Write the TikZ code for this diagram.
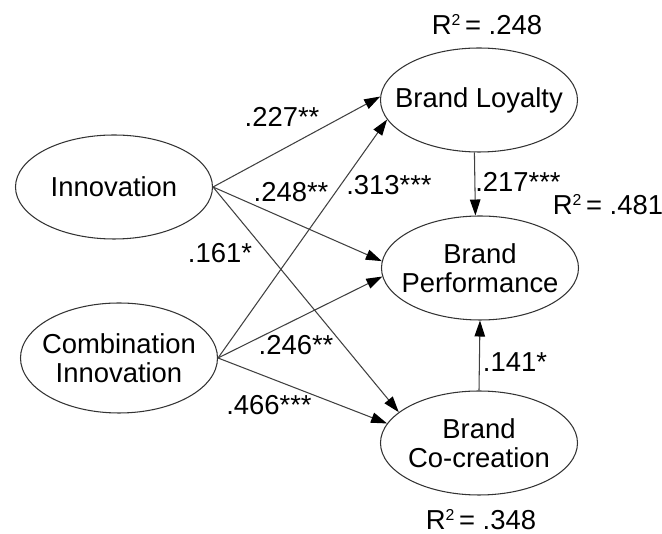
\documentclass[tikz,border=0pt]{standalone}
\usepackage{fontspec}
\setmainfont{Liberation Sans}
\usetikzlibrary{positioning,arrows.meta,shapes.geometric}

\newcommand{\rsq}{R\raisebox{0.62ex}{\fontsize{9}{9}\selectfont 2}\,= }

\begin{document}
\begin{tikzpicture}[
    latent/.style={ellipse, draw=black!80, line width=0.6pt, inner sep=0pt, minimum width=3.94cm, minimum height=2.08cm,
        label={[align=center, font=\fontsize{15.6}{16.6}\selectfont]center:#1}},
    path/.style={-{Triangle[length=0.32cm,width=0.21cm,color=black]}, draw=black!75, line width=0.6pt},
    coef/.style={font=\fontsize{15.6}{16.6}\selectfont, inner sep=1pt}
]
\useasboundingbox (0,0) rectangle (13.24,10.68);

% Exogenous constructs
\node[latent={Innovation}] (inn) at (2.28,6.94) {};
\node[latent={Combination\\Innovation}, minimum height=2.2cm] (comb) at (2.38,3.52) {};

% Endogenous constructs
\node[latent={Brand Loyalty}] (loy) at (9.58,8.68) {};
\node[latent={Brand\\Performance}] (perf) at (9.60,5.32) {};
\node[latent={Brand\\Co-creation}] (co) at (9.58,1.82) {};

% R squared
\node[coef] (r2loy) at (9.74,10.18) {\rsq.248};
\node[coef] (r2perf) at (12.16,6.58) {\rsq.481};
\node[coef] (r2co) at (9.62,0.28) {\rsq.348};

% Paths from Innovation
\draw[path] (inn.east) -- (loy.178);
\draw[path] (inn.east) -- (perf.176);
\draw[path] (inn.east) -- (co.159);

% Paths from Combination Innovation
\draw[path] (comb.east) -- (loy.192);
\draw[path] (comb.east) -- (perf.185);
\draw[path] (comb.east) -- (co.168);

% Paths into Brand Performance
\draw[path] (loy.265) -- (perf.95);
\draw[path] (co.north) -- (perf.south);

% Coefficients
\node[coef] (c227) at (5.64,8.34) {.227**};
\node[coef] (c248) at (5.82,6.84) {.248**};
\node[coef] (c313) at (7.78,6.98) {.313***};
\node[coef] (c217) at (10.36,7.04) {.217***};
\node[coef] (c161) at (4.40,5.62) {.161*};
\node[coef] (c246) at (5.92,3.78) {.246**};
\node[coef] (c466) at (5.38,2.58) {.466***};
\node[coef] (c141) at (10.30,3.44) {.141*};

\end{tikzpicture}
\end{document}
